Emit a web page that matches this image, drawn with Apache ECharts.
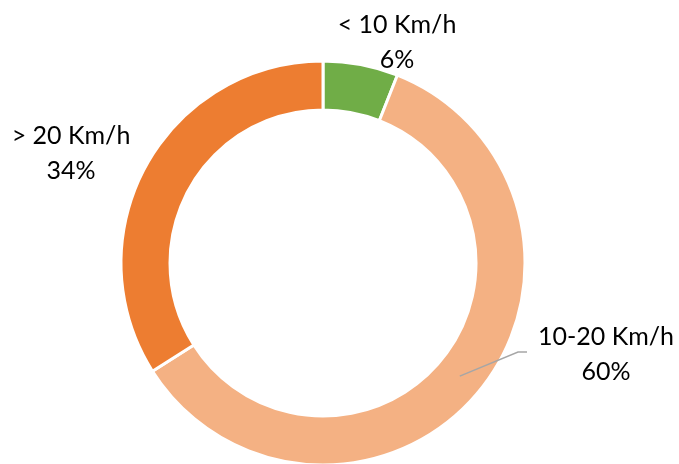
<!DOCTYPE html>
<html>
<head>
<meta charset="utf-8">
<script src="https://cdn.jsdelivr.net/npm/echarts@6/dist/echarts.min.js"></script>
<style>
  html, body { margin: 0; padding: 0; background: #fff; }
  #chart { width: 679px; height: 464px; }
</style>
</head>
<body>
<div id="chart"></div>
<script>
// speed classes and their share (%)
var categories = ['< 10 Km/h', '10-20 Km/h', '> 20 Km/h'];
var shares = [6, 60, 34];
var colors = ['#70AD47', '#F4B183', '#ED7D31'];

// where each label sits (centre of text block)
var labelPos = [[397, 42], [606, 354], [71, 153]];

var cx = 323, cy = 263, rIn = 153, rOut = 202;

var myChart = echarts.init(document.getElementById('chart'));

var total = 0;
for (var k = 0; k < shares.length; k++) total += shares[k];

var ringData = [], labelData = [];
for (var i = 0; i < categories.length; i++) {
	ringData.push({ name: categories[i], value: shares[i], itemStyle: { color: colors[i] } });
	labelData.push({ name: categories[i], value: shares[i], labelLine: { show: i == 1 } });
}

// mid angle of a slice, measured clockwise from 12 o'clock
function midAngle(idx) {
	var before = 0;
	for (var j = 0; j < idx; j++) before += shares[j];
	return (before + shares[idx] / 2) / total * Math.PI * 2;
}

var option = {
	animation: false,
	series: [
		{
			// the coloured ring
			type: 'pie',
			z: 2,
			center: [cx, cy],
			radius: [rIn, rOut],
			startAngle: 90,
			clockwise: true,
			silent: true,
			itemStyle: { borderColor: '#fff', borderWidth: 3 },
			label: { show: false },
			labelLine: { show: false },
			data: ringData
		},
		{
			// invisible copy on top, carries the labels so the leader line is not hidden
			type: 'pie',
			z: 5,
			center: [cx, cy],
			radius: [rIn, rOut],
			startAngle: 90,
			clockwise: true,
			silent: true,
			itemStyle: { color: 'rgba(0,0,0,0)', borderWidth: 0 },
			label: {
				show: true,
				position: 'outside',
				overflow: 'none',
				formatter: function (p) { return p.name + '\n' + p.value + '%'; },
				fontFamily: 'Lato',
				fontSize: 25,
				lineHeight: 35,
				color: '#000',
				align: 'center'
			},
			labelLine: {
				show: true,
				showAbove: true,
				lineStyle: { color: '#A6A6A6', width: 1.5 }
			},
			labelLayout: function (params) {
				var idx = params.dataIndex;
				var p = labelPos[idx];
				var res = { x: p[0], y: p[1], align: 'center', verticalAlign: 'middle' };
				if (idx == 1) {
					var a = midAngle(idx);
					var r = (rIn + rOut) / 2;
					var start = [cx + r * Math.sin(a), cy - r * Math.cos(a)];
					res.labelLinePoints = [start, [p[0] - 88, p[1] - 2], [p[0] - 79, p[1] - 2]];
				}
				return res;
			},
			data: labelData
		}
	]
};
myChart.setOption(option);
</script>
</body>
</html>
